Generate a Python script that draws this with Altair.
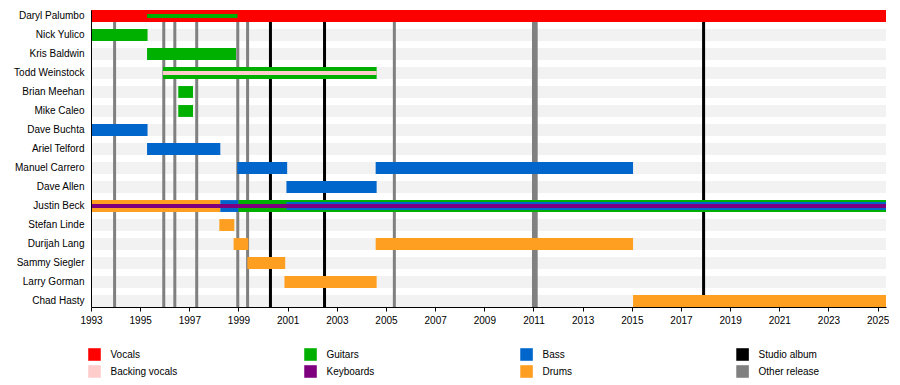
import altair as alt
import pandas as pd

X_START = 1993.0
X_END = 2025.34

members = ["Daryl Palumbo", "Nick Yulico", "Kris Baldwin", "Todd Weinstock",
           "Brian Meehan", "Mike Caleo", "Dave Buchta", "Ariel Telford",
           "Manuel Carrero", "Dave Allen", "Justin Beck", "Stefan Linde",
           "Durijah Lang", "Sammy Siegler", "Larry Gorman", "Chad Hasty"]

# full-height bars
full_member = ["Daryl Palumbo", "Nick Yulico", "Kris Baldwin", "Todd Weinstock",
               "Brian Meehan", "Mike Caleo", "Dave Buchta", "Ariel Telford",
               "Manuel Carrero", "Manuel Carrero", "Dave Allen",
               "Justin Beck", "Justin Beck", "Justin Beck",
               "Stefan Linde", "Durijah Lang", "Durijah Lang",
               "Sammy Siegler", "Larry Gorman", "Chad Hasty"]
full_role = ["Vocals", "Guitars", "Guitars", "Guitars",
             "Guitars", "Guitars", "Bass", "Bass",
             "Bass", "Bass", "Bass",
             "Drums", "Bass", "Guitars",
             "Drums", "Drums", "Drums",
             "Drums", "Drums", "Drums"]
full_start = [1993.0, 1993.0, 1995.28, 1995.93,
              1996.55, 1996.55, 1993.0, 1995.28,
              1998.95, 2004.58, 2000.95,
              1993.0, 1998.26, 1999.0,
              1998.22, 1998.8, 2004.58,
              1999.36, 2000.87, 2015.05]
full_end = [X_END, 1995.3, 1998.9, 2004.62,
            1997.15, 1997.15, 1995.3, 1998.26,
            2000.98, 2015.05, 2004.62,
            1998.26, 1999.0, X_END,
            1998.83, 1999.4, 2015.05,
            2000.9, 2004.62, X_END]

# medium bars
mid_member = ["Justin Beck"]
mid_role = ["Bass"]
mid_start = [2000.95]
mid_end = [X_END]

# thin bars
thin_member = ["Daryl Palumbo", "Todd Weinstock", "Justin Beck"]
thin_role = ["Guitars", "Backing vocals", "Keyboards"]
thin_start = [1995.28, 1995.93, 1993.0]
thin_end = [1998.96, 2004.62, X_END]

studio_years = [2000.3, 2002.5, 2017.92]
other_years = [1993.96, 1995.96, 1996.41, 1997.3, 1998.97, 1999.37,
               2005.34, 2011.0, 2011.11]

roles = ["Vocals", "Guitars", "Bass", "Studio album",
         "Backing vocals", "Keyboards", "Drums", "Other release"]
role_colors = ["#ff0000", "#00b000", "#0066cc", "#000000",
               "#ffcccc", "#7f007f", "#ff9f21", "#808080"]

FONT = "Liberation Sans"

full_df = pd.DataFrame({"member": full_member, "role": full_role,
                        "start": full_start, "end": full_end})
mid_df = pd.DataFrame({"member": mid_member, "role": mid_role,
                       "start": mid_start, "end": mid_end})
thin_df = pd.DataFrame({"member": thin_member, "role": thin_role,
                        "start": thin_start, "end": thin_end})
stripe_df = pd.DataFrame({"member": members, "start": [X_START] * len(members),
                          "end": [X_END] * len(members)})
lines_df = pd.DataFrame({"year": studio_years + other_years,
                         "role": ["Studio album"] * len(studio_years)
                                 + ["Other release"] * len(other_years)})

color = alt.Color("role:N", scale=alt.Scale(domain=roles, range=role_colors), legend=None)
xscale = alt.Scale(domain=[X_START, X_END], nice=False, zero=False)
x_axis = alt.Axis(values=list(range(1993, 2026)),
                  labelExpr="datum.value % 2 == 1 ? datum.value : ''",
                  format="d", tickSize=4, tickColor="black", domainColor="black",
                  labelFont=FONT, labelFontSize=10, labelColor="black",
                  grid=False, title=None, labelPadding=4, labelFlush=False,
                  zindex=1)
y_enc = alt.Y("member:N", sort=members,
              scale=alt.Scale(paddingInner=0.375, paddingOuter=0),
              axis=alt.Axis(ticks=False, labelPadding=7, domainColor="black",
                            labelFont=FONT, labelFontSize=10, labelColor="black",
                            title=None, grid=False, zindex=1))

stripes = alt.Chart(stripe_df).mark_bar(color="#f2f2f2").encode(
    x=alt.X("start:Q", scale=xscale, axis=x_axis), x2="end:Q", y=y_enc)
rules = alt.Chart(lines_df).mark_rule(strokeWidth=3).encode(
    x=alt.X("year:Q", scale=xscale), color=color)
bars = alt.Chart(full_df).mark_bar().encode(
    x=alt.X("start:Q", scale=xscale), x2="end:Q", y=y_enc, color=color)
mids = alt.Chart(mid_df).mark_bar(height=8).encode(
    x=alt.X("start:Q", scale=xscale), x2="end:Q", y=y_enc, color=color)
thins = alt.Chart(thin_df).mark_bar(height=4).encode(
    x=alt.X("start:Q", scale=xscale), x2="end:Q", y=y_enc, color=color)

timeline = alt.layer(stripes, rules, bars, mids, thins).properties(width=795, height=297)

legend_df = pd.DataFrame({"role": roles,
                          "col": [i % 4 for i in range(len(roles))],
                          "row": [i // 4 for i in range(len(roles))]})
lx = alt.X("col:Q", scale=alt.Scale(domain=[-0.0162, 3.664], nice=False, zero=False), axis=None)
ly = alt.Y("row:O", scale=alt.Scale(type="point", padding=0.5), axis=None)
leg_sq = alt.Chart(legend_df).mark_square(size=158, opacity=1, filled=True).encode(
    x=lx, y=ly, color=color)
leg_tx = alt.Chart(legend_df).mark_text(align="left", baseline="middle", dx=16,
                                       font=FONT, fontSize=10, color="black").encode(
    x=lx, y=ly, text="role:N")
legend = alt.layer(leg_sq, leg_tx).properties(width=795, height=34)

chart = alt.vconcat(timeline, legend, spacing=21).properties(
    padding={"left": 5, "top": 0, "right": 0, "bottom": 0}
).configure_view(stroke=None)

chart.save("out.html", embed_options={"renderer": "svg", "actions": False})
